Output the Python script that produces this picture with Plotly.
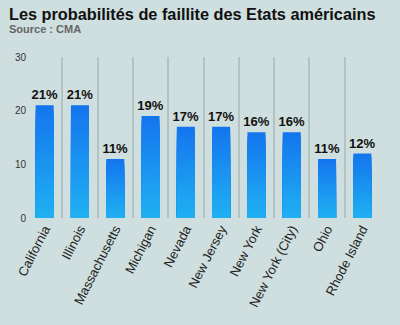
import plotly.graph_objects as go

states = ["California", "Illinois", "Massachusetts", "Michigan", "Nevada",
          "New Jersey", "New York", "New York (City)", "Ohio", "Rhode Island"]
probabilities = [21, 21, 11, 19, 17, 17, 16, 16, 11, 12]
y_ticks = [0, 10, 20, 30]

title_text = "Les probabilités de faillite des Etats américains"
source_text = "Source : CMA"

W, H = 400, 325
L, R, T, B = 27, 20, 57, 107
pw, ph = W - L - R, H - T - B

def px_x(x):
    return (x - L) / pw

def px_y(y):
    return (H - B - y) / ph

top_rgb = (20, 118, 238)
bot_rgb = (32, 178, 242)
N = 24

fig = go.Figure()
for k in range(N):
    f = k / N
    c = tuple(round(top_rgb[i] + (bot_rgb[i] - top_rgb[i]) * f) for i in range(3))
    fig.add_trace(go.Bar(
        x=states,
        y=[v * (1 - f) for v in probabilities],
        marker=dict(color="rgb(%d,%d,%d)" % c, line=dict(width=0)),
        width=0.51,
        text=[f"<b>{v}%</b>" for v in probabilities] if k == 0 else None,
        textposition="outside" if k == 0 else "none",
        constraintext="none",
        textfont=dict(family="Liberation Sans, Arial", size=13, color="#111"),
        cliponaxis=False,
        hoverinfo="skip",
        showlegend=False,
    ))

fig.update_layout(
    width=W, height=H,
    margin=dict(l=L, r=R, t=T, b=B),
    paper_bgcolor="#cfdede",
    plot_bgcolor="#cfdede",
    barmode="overlay",
    font=dict(family="Liberation Sans, Arial", color="#222"),
    xaxis=dict(
        type="category",
        tickson="boundaries",
        showgrid=True,
        gridcolor="#b3c2c2",
        gridwidth=1.5,
        ticks="",
        tickangle=-63,
        tickfont=dict(size=13, color="#222"),
        showline=False,
        zeroline=False,
    ),
    yaxis=dict(
        range=[0, 30],
        tickvals=y_ticks,
        showgrid=False,
        zeroline=False,
        showline=False,
        ticks="",
        tickfont=dict(size=10, color="#333"),
    ),
    annotations=[
        dict(text="<b>" + title_text + "</b>", xref="paper", yref="paper",
             x=px_x(7), y=px_y(14), xanchor="left", yanchor="middle",
             showarrow=False, font=dict(size=16.3, color="#111")),
        dict(text="<b>" + source_text + "</b>", xref="paper", yref="paper",
             x=px_x(7), y=px_y(29), xanchor="left", yanchor="middle",
             showarrow=False, font=dict(size=11, color="#666")),
    ],
)

fig.write_html("out.html")
